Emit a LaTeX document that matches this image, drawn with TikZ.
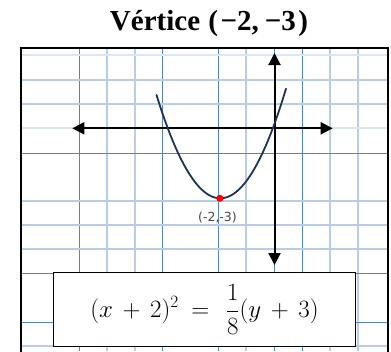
\documentclass[tikz,border=0pt]{standalone}
\usepackage{amsmath,amssymb}
\usepackage{fontspec}
\setmainfont{Liberation Serif}
\newfontfamily\labfont{DejaVu Sans}
\usetikzlibrary{arrows.meta}
\definecolor{gmaj}{RGB}{84,132,200}
\definecolor{gmin}{RGB}{186,205,232}
\definecolor{gfaint}{RGB}{220,230,243}
\definecolor{curvec}{RGB}{31,50,90}
\tikzset{
  majline/.style={draw=gmaj,line width=1pt},
  minline/.style={draw=gmin,line width=1.4pt},
  faintline/.style={draw=gfaint,line width=1.4pt},
  axisline/.style={line width=2pt,-{Triangle[length=12pt,width=12pt]}},
  framebox/.style={draw=black,line width=2.8pt},
  eqbox/.style={draw=black,line width=1pt,fill=white,minimum width=302.4pt,minimum height=74.7pt,inner sep=0pt},
}
\begin{document}
\begin{tikzpicture}[x=1pt,y=-1pt]
\useasboundingbox (0,0) rectangle (391,351);
% grid
\begin{scope}
\clip (21,48) rectangle (388,351);
\foreach \xx in {107,135,246,330,358} \draw[minline] (\xx,48) -- (\xx,351);
\foreach \xx in {79,162,218,274,302} \draw[majline] (\xx,48) -- (\xx,351);
\foreach \yy in {55,128} \draw[faintline] (21,\yy) -- (388,\yy);
\foreach \yy in {80,104,201,225,249,346} \draw[minline] (21,\yy) -- (388,\yy);
\foreach \yy in {153,273,322} \draw[majline] (21,\yy) -- (388,\yy);
\end{scope}
% frame
\draw[framebox] (21,360) -- (21,48) -- (388,48) -- (388,360);
% title
\node[anchor=base,inner sep=0pt] (title) at (209,30.7) {\fontsize{29}{31}\selectfont\bfseries Vértice \kern1pt(\kern2.5pt−2,\kern6pt−3\kern2.5pt)};
% axes
\coordinate (yb) at (274.5,265);
\coordinate (yt) at (274.5,53);
\coordinate (xl) at (72.3,128.3);
\coordinate (xr) at (332.7,128.3);
\coordinate (o) at (274.5,128.3);
\draw[axisline] (o) -- (yt);
\draw[axisline] (o) -- (yb);
\draw[axisline] (o) -- (xl);
\draw[axisline] (o) -- (xr);
% parabola
\draw[curvec,line width=1.8pt,line cap=round] plot[domain=156.5:286,samples=80,smooth] (\x,{198.3-0.0254*(\x-220.3)^2});
\fill[red] (219.8,198.3) circle (3.6);
\node[text=black!72,inner sep=0pt] (vlab) at (217.5,217.5) {\labfont\fontsize{12.5}{14}\selectfont (-2,-3)};
% equation box
\node[eqbox] (eq) at (204.5,309.5) {\fontsize{23}{27}\selectfont $\medmuskip=7mu\thickmuskip=9mu\displaystyle (x+2)^2 =\,\frac{1}{8}(y+3)$};
\end{tikzpicture}
\end{document}
